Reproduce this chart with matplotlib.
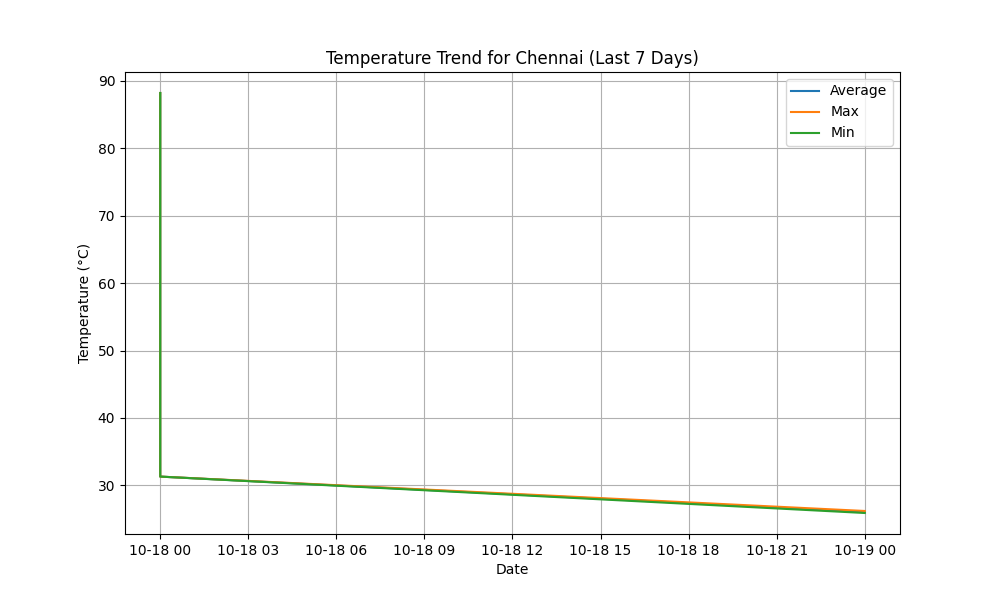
import matplotlib
matplotlib.use("Agg")
import matplotlib.pyplot as plt
import pandas as pd

# readings pulled off the reference chart
dates = pd.to_datetime(["2024-10-18 00:00", "2024-10-18 00:00", "2024-10-19 00:00"])
avg_temp = [88.2, 31.3, 26.05]
max_temp = [88.2, 31.3, 26.2]
min_temp = [88.2, 31.3, 25.9]

fig, ax = plt.subplots(figsize=(10, 6))
ax.plot(dates, avg_temp, label="Average")
ax.plot(dates, max_temp, label="Max")
ax.plot(dates, min_temp, label="Min")
ax.set_title("Temperature Trend for Chennai (Last 7 Days)")
ax.set_xlabel("Date")
ax.set_ylabel("Temperature (°C)")
ax.legend()
ax.grid(True)

fig.savefig("out.png", dpi=100)
